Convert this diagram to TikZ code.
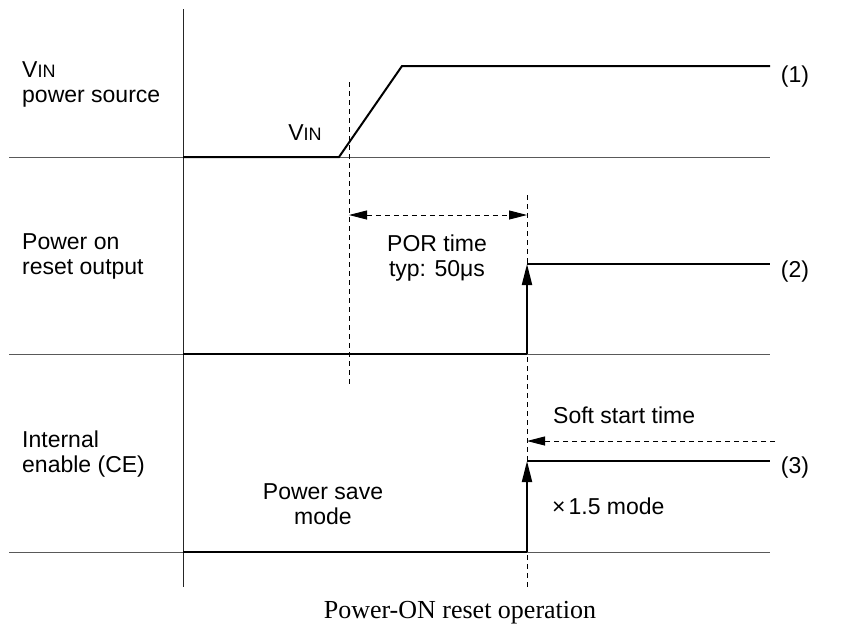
\documentclass[tikz,border=0pt]{standalone}
\usepackage{fontspec}
\setmainfont{Liberation Sans}
\newfontfamily\capfont{Liberation Serif}
\usetikzlibrary{arrows.meta,positioning}

\begin{document}
\begin{tikzpicture}[x=1pt,y=-1pt,font=\fontsize{23}{25}\selectfont,
  lbl/.style={inner sep=0pt,align=left,anchor=north west},
  txt/.style={inner sep=0pt,align=center},
  base/.style={line width=1pt,black!65},
  axis/.style={line width=1pt,black!85},
  sig/.style={line width=2pt,black},
  guide/.style={line width=0.9pt,dash pattern=on 5pt off 4pt},
  up/.style={-{Triangle[length=21pt,width=10pt]},line width=2pt},
  span/.style={{Triangle[length=18pt,width=9pt]}-{Triangle[length=18pt,width=9pt]},line width=0.9pt,dash pattern=on 5pt off 4pt},
  back/.style={-{Triangle[length=18pt,width=9pt]},line width=0.9pt,dash pattern=on 5pt off 4pt}]
\useasboundingbox (0,0) rectangle (845,630);
% axis and baselines
\coordinate (axT) at (183,9);
\coordinate (axB) at (183,587);
\coordinate (b1L) at (9,157); \coordinate (b1R) at (770,157);
\coordinate (b2L) at (9,354); \coordinate (b2R) at (770,354);
\coordinate (b3L) at (9,552); \coordinate (b3R) at (770,552);
\draw[axis] (axT) -- (axB);
\draw[base] (b1L) -- (b1R); \draw[base] (b2L) -- (b2R); \draw[base] (b3L) -- (b3R);
% guides
\coordinate (g1T) at (349,82);  \coordinate (g1B) at (349,385);
\coordinate (g2T) at (527,195); \coordinate (g2B) at (527,587);
\draw[guide] (g1T) -- (g1B);
\draw[guide] (g2T) -- (g2B);
% (1) VIN
\coordinate (v0) at (183,157); \coordinate (v1) at (339,157);
\coordinate (v2) at (402,66);  \coordinate (v3) at (770,66);
\draw[sig] (v0) -- (v1) -- (v2) -- (v3);
% (2) POR output
\coordinate (p0) at (183,354); \coordinate (p1) at (527,354);
\coordinate (p2) at (527,264); \coordinate (p3) at (770,264);
\draw[sig] (p0) -- (p1);
\draw[up] (p1) -- (p2);
\draw[sig] (p2) -- (p3);
% (3) CE
\coordinate (c0) at (183,552); \coordinate (c1) at (527,552);
\coordinate (c2) at (527,461); \coordinate (c3) at (770,461);
\draw[sig] (c0) -- (c1);
\draw[up] (c1) -- (c2);
\draw[sig] (c2) -- (c3);
% timing arrows
\coordinate (porL) at (349,215); \coordinate (porR) at (527,215);
\draw[span] (porL) -- (porR);
\coordinate (ssR) at (775,441); \coordinate (ssL) at (527,441);
\draw[back] (ssR) -- (ssL);
% labels
\node[lbl] (vinlbl) at (22,61.5) {V{\fontsize{18}{18}\selectfont IN}\\power source};
\node[lbl] (porlbl) at (22,233.5) {Power on\\reset output};
\node[lbl] (celbl) at (22,430.5) {Internal\\enable (CE)};
\node (n1) at (795,77) {(1)};
\node (n2) at (795,272) {(2)};
\node (n3) at (795,468) {(3)};
\node[txt,anchor=base] (vinmark) at (305,140) {V{\fontsize{18}{18}\selectfont IN}};
\node[txt,anchor=north] (portxt) at (437,234.5) {POR time\\typ: 50μs};
\node[txt,anchor=base west] (sstxt) at (553,423) {Soft start time};
\node[txt,anchor=north] (pstxt) at (323,483.5) {Power save\\mode};
\node[txt,anchor=base west] (modetxt) at (552,514) {×\kern3pt1.5 mode};
\node[txt,anchor=base,font=\capfont\fontsize{26}{28}\selectfont] (title) at (460,618) {Power-ON reset operation};
\end{tikzpicture}
\end{document}
